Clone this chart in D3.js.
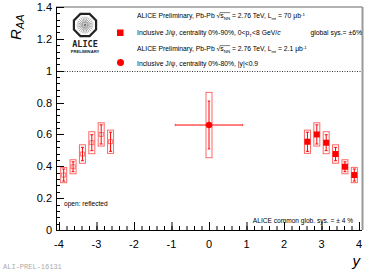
<!DOCTYPE html>
<html><head><meta charset="utf-8">
<script src="https://cdn.jsdelivr.net/npm/d3@7"></script>
<style>
body{margin:0;background:#fff;}
svg{display:block;font-family:"Liberation Sans",Arial,sans-serif;}
</style></head>
<body>
<svg id="c" width="374" height="271"></svg>
<script>
// ---- data ----
const xTicks = [-4,-3,-2,-1,0,1,2,3,4];
const yTicks = [0,0.2,0.4,0.6,0.8,1,1.2,1.4];
const yTickLabels = ["0","0.2","0.4","0.6","0.8","1","1.2","1.4"];
// forward rapidity (filled squares)
const fwdY    = [2.625, 2.875, 3.125, 3.375, 3.625, 3.875];
const fwdRaa  = [0.554, 0.600, 0.548, 0.477, 0.397, 0.345];
const fwdStat = [0.060, 0.060, 0.050, 0.042, 0.031, 0.038];
const fwdSys  = [0.073, 0.073, 0.069, 0.058, 0.044, 0.048];
// mid rapidity (filled circle)
const midY    = [0];
const midRaa  = [0.659];
const midStat = [0.150];
const midSys  = [0.205];
const midXErr = [0.9];

const svg = d3.select("#c");
const x = d3.scaleLinear().domain([-4.08, 4.08]).range([56, 362]);
const y = d3.scaleLinear().domain([0, 1.4]).range([230, 7]);
const red = "#ff0000", sysCol = "rgba(255,0,0,0.6)";

// frame
svg.append("line").attr("x1",56).attr("x2",362.5).attr("y1",7).attr("y2",7).attr("stroke","#999").attr("stroke-width",1.5);
svg.append("line").attr("x1",362.5).attr("x2",362.5).attr("y1",7).attr("y2",230).attr("stroke","#999").attr("stroke-width",2);

// axes
const xMinor = d3.range(-40, 41, 2).map(d => d/10);
const yMinor = d3.range(0, 36, 1).map(d => d*0.04);
const gx = svg.append("g");
gx.append("line").attr("x1",56).attr("x2",362).attr("y1",230.5).attr("y2",230.5).attr("stroke","#000");
gx.selectAll(".mn").data(xMinor).join("line").attr("x1",d=>x(d)+0.5).attr("x2",d=>x(d)+0.5)
  .attr("y1",230).attr("y2",226).attr("stroke","#000");
gx.selectAll(".mj").data(xTicks).join("line").attr("x1",d=>x(d)+0.5).attr("x2",d=>x(d)+0.5)
  .attr("y1",230).attr("y2",222).attr("stroke","#000");
gx.selectAll("text").data(xTicks).join("text").attr("x",d=>x(d)).attr("y",248)
  .attr("text-anchor","middle").attr("font-size",11).text(d=>d<0?"-"+Math.abs(d):d);

const gy = svg.append("g");
gy.append("line").attr("x1",56.5).attr("x2",56.5).attr("y1",7).attr("y2",230).attr("stroke","#000");
gy.selectAll(".mn").data(yMinor).join("line").attr("y1",d=>Math.round(y(d))+0.5).attr("y2",d=>Math.round(y(d))+0.5)
  .attr("x1",56).attr("x2",60).attr("stroke","#000");
gy.selectAll(".mj").data(yTicks).join("line").attr("y1",d=>Math.round(y(d))+0.5).attr("y2",d=>Math.round(y(d))+0.5)
  .attr("x1",56).attr("x2",64).attr("stroke","#000");
gy.selectAll("text").data(yTicks).join("text").attr("x",52).attr("y",d=>y(d)+4)
  .attr("text-anchor","end").attr("font-size",11).text((d,i)=>yTickLabels[i]);

// dotted unity line
svg.append("line").attr("x1",57).attr("x2",362).attr("y1",Math.round(y(1))+0.5).attr("y2",Math.round(y(1))+0.5)
  .attr("stroke","#000").attr("stroke-dasharray","1,1.5").attr("stroke-width",0.8);

// axis titles
const yt = svg.append("text").attr("transform","translate(21,40) rotate(-90)")
  .attr("font-size",15).attr("font-style","italic");
yt.append("tspan").text("R");
yt.append("tspan").attr("dy",3).attr("font-size",11).attr("font-style","italic").text("AA");
svg.append("text").attr("x",360).attr("y",266).attr("text-anchor","end").attr("font-size",15)
  .attr("font-style","italic").text("y");

// helper to draw points
function drawSet(xs, vals, stat, sys, open) {
  const g = svg.append("g");
  const bw = x(0.08) - x(0);
  g.selectAll("rect.sys").data(xs).join("rect")
    .attr("x",(d)=>x(d)-bw).attr("width",2*bw)
    .attr("y",(d,i)=>y(vals[i]+sys[i])).attr("height",(d,i)=>y(vals[i]-sys[i])-y(vals[i]+sys[i]))
    .attr("fill","none").attr("stroke",sysCol).attr("stroke-width",1);
  g.selectAll("line.st").data(xs).join("line")
    .attr("x1",d=>x(d)).attr("x2",d=>x(d))
    .attr("y1",(d,i)=>y(vals[i]+stat[i])).attr("y2",(d,i)=>y(vals[i]-stat[i]))
    .attr("stroke",red).attr("stroke-width",1);
  [1,-1].forEach(s=>{
    g.selectAll(null).data(xs).join("line")
      .attr("x1",d=>x(d)-1.5).attr("x2",d=>x(d)+1.5)
      .attr("y1",(d,i)=>y(vals[i]+s*stat[i])).attr("y2",(d,i)=>y(vals[i]+s*stat[i]))
      .attr("stroke",red).attr("stroke-width",1);
  });
  if (open) {
    g.selectAll("rect.m").data(xs).join("rect")
      .attr("x",d=>x(d)-2).attr("y",(d,i)=>y(vals[i])-2).attr("width",4).attr("height",4)
      .attr("fill","none").attr("stroke",sysCol).attr("stroke-width",0.8);
  } else {
    g.selectAll("rect.m").data(xs).join("rect")
      .attr("x",d=>x(d)-3).attr("y",(d,i)=>y(vals[i])-3).attr("width",6).attr("height",6)
      .attr("fill",red);
  }
}
drawSet(fwdY, fwdRaa, fwdStat, fwdSys, false);
drawSet(fwdY.map(d=>-d), fwdRaa, fwdStat, fwdSys, true);

// mid rapidity
const gm = svg.append("g");
const mbw = x(0.08)-x(0);
gm.selectAll("rect").data(midY).join("rect")
  .attr("x",d=>x(d)-mbw).attr("width",2*mbw)
  .attr("y",(d,i)=>y(midRaa[i]+midSys[i])).attr("height",(d,i)=>y(midRaa[i]-midSys[i])-y(midRaa[i]+midSys[i]))
  .attr("fill","none").attr("stroke",sysCol);
gm.selectAll("line.v").data(midY).join("line")
  .attr("x1",d=>x(d)).attr("x2",d=>x(d))
  .attr("y1",(d,i)=>y(midRaa[i]+midStat[i])).attr("y2",(d,i)=>y(midRaa[i]-midStat[i]))
  .attr("stroke",red);
[1,-1].forEach(s=>{
  gm.selectAll(null).data(midY).join("line")
    .attr("x1",d=>x(d)-1.2).attr("x2",d=>x(d)+1.2)
    .attr("y1",(d,i)=>y(midRaa[i]+s*midStat[i])).attr("y2",(d,i)=>y(midRaa[i]+s*midStat[i]))
    .attr("stroke",red);
  gm.selectAll(null).data(midY).join("line")
    .attr("x1",(d,i)=>x(d+s*midXErr[i])).attr("x2",(d,i)=>x(d+s*midXErr[i]))
    .attr("y1",(d,i)=>y(midRaa[i])-1.2).attr("y2",(d,i)=>y(midRaa[i])+1.2)
    .attr("stroke",sysCol);
});
gm.selectAll("line.h").data(midY).join("line")
  .attr("x1",(d,i)=>x(d-midXErr[i])).attr("x2",(d,i)=>x(d+midXErr[i]))
  .attr("y1",(d,i)=>y(midRaa[i])).attr("y2",(d,i)=>y(midRaa[i]))
  .attr("stroke",red).attr("stroke-width",1);
gm.selectAll("circle").data(midY).join("circle")
  .attr("cx",d=>x(d)).attr("cy",(d,i)=>y(midRaa[i])).attr("r",3.2).attr("fill",red);

// ALICE logo
const lg = svg.append("g").attr("transform","translate(85,25)");
const oct = d3.range(8).map(i=>{const a=Math.PI/8+i*Math.PI/4;return [12*Math.cos(a),12*Math.sin(a)];});
lg.append("polygon").attr("points",oct.map(p=>p.join(",")).join(" ")).attr("fill","#fff").attr("stroke","#222").attr("stroke-width",2.2);
d3.range(24).forEach(i=>{const a=i*Math.PI/12;
  lg.append("line").attr("x1",2*Math.cos(a)).attr("y1",2*Math.sin(a)).attr("x2",8.5*Math.cos(a)).attr("y2",8.5*Math.sin(a))
    .attr("stroke","#777").attr("stroke-width",0.6);});
lg.append("circle").attr("r",1.5).attr("fill","#777");
svg.append("text").attr("x",85).attr("y",47).attr("text-anchor","middle").attr("font-size",8.5)
  .attr("font-weight","bold").attr("font-family","DejaVu Sans Mono, monospace").attr("fill","#222").text("ALICE");
svg.append("text").attr("x",85).attr("y",53).attr("text-anchor","middle").attr("font-size",4.2)
  .attr("font-weight","bold").attr("fill","#222").text("PRELIMINARY");

// legend
const fs = 6.8;
function sqrtLine(yb, lint) {
  const t = svg.append("text").attr("x",137).attr("y",yb).attr("font-size",fs).attr("fill","#000");
  t.append("tspan").text("ALICE Preliminary, Pb-Pb ");
  t.append("tspan").text("\u221A");
  t.append("tspan").text("s");
  t.append("tspan").attr("font-size",4.4).attr("dy",1.5).text("NN");
  t.append("tspan").attr("dy",-1.5).text(" = 2.76 TeV, L");
  t.append("tspan").attr("font-size",4.4).attr("dy",1.5).text("int");
  t.append("tspan").attr("dy",-1.5).text(" = " + lint + " \u03BCb");
  t.append("tspan").attr("font-size",4.4).attr("dy",-2.5).text("-1");
  const node = t.node();
  const s0 = "ALICE Preliminary, Pb-Pb ".length;
  const ext0 = node.getExtentOfChar(s0);
  const ext1 = node.getExtentOfChar(s0+3);
  svg.append("line").attr("x1",ext0.x+ext0.width-0.5).attr("x2",ext1.x+ext1.width)
    .attr("y1",ext0.y+0.6).attr("y2",ext0.y+0.6).attr("stroke","#000").attr("stroke-width",0.5);
}
sqrtLine(18, "70");
const l2 = svg.append("text").attr("x",137).attr("y",35).attr("font-size",fs);
l2.append("tspan").text("Inclusive J/\u03C8, centrality 0%-90%, 0<p");
l2.append("tspan").attr("font-size",4.4).attr("dy",1.5).text("T");
l2.append("tspan").attr("dy",-1.5).text("<8 GeV/");
l2.append("tspan").attr("font-style","italic").text("c");
svg.append("text").attr("x",362).attr("y",35).attr("text-anchor","end").attr("font-size",fs).text("global sys.= \u00B16%");
sqrtLine(51, "2.1");
svg.append("text").attr("x",137).attr("y",66).attr("font-size",fs).text("Inclusive J/\u03C8, centrality 0%-80%, |y|<0.9");
svg.append("rect").attr("x",117).attr("y",29.5).attr("width",6.5).attr("height",6.5).attr("fill",red);
svg.append("circle").attr("cx",120.5).attr("cy",62.5).attr("r",3.5).attr("fill",red);

// annotations
svg.append("text").attr("x",64).attr("y",206).attr("font-size",6.6).text("open: reflected");
svg.append("text").attr("x",353).attr("y",223).attr("text-anchor","end").attr("font-size",6.6).text("ALICE common glob. sys. = \u00B1 4 %");
svg.append("text").attr("x",3).attr("y",269).attr("font-size",7).attr("fill","#aaa")
  .attr("font-family","Liberation Mono, DejaVu Sans Mono, monospace").text("ALI-PREL-16131");
</script>
</body></html>
